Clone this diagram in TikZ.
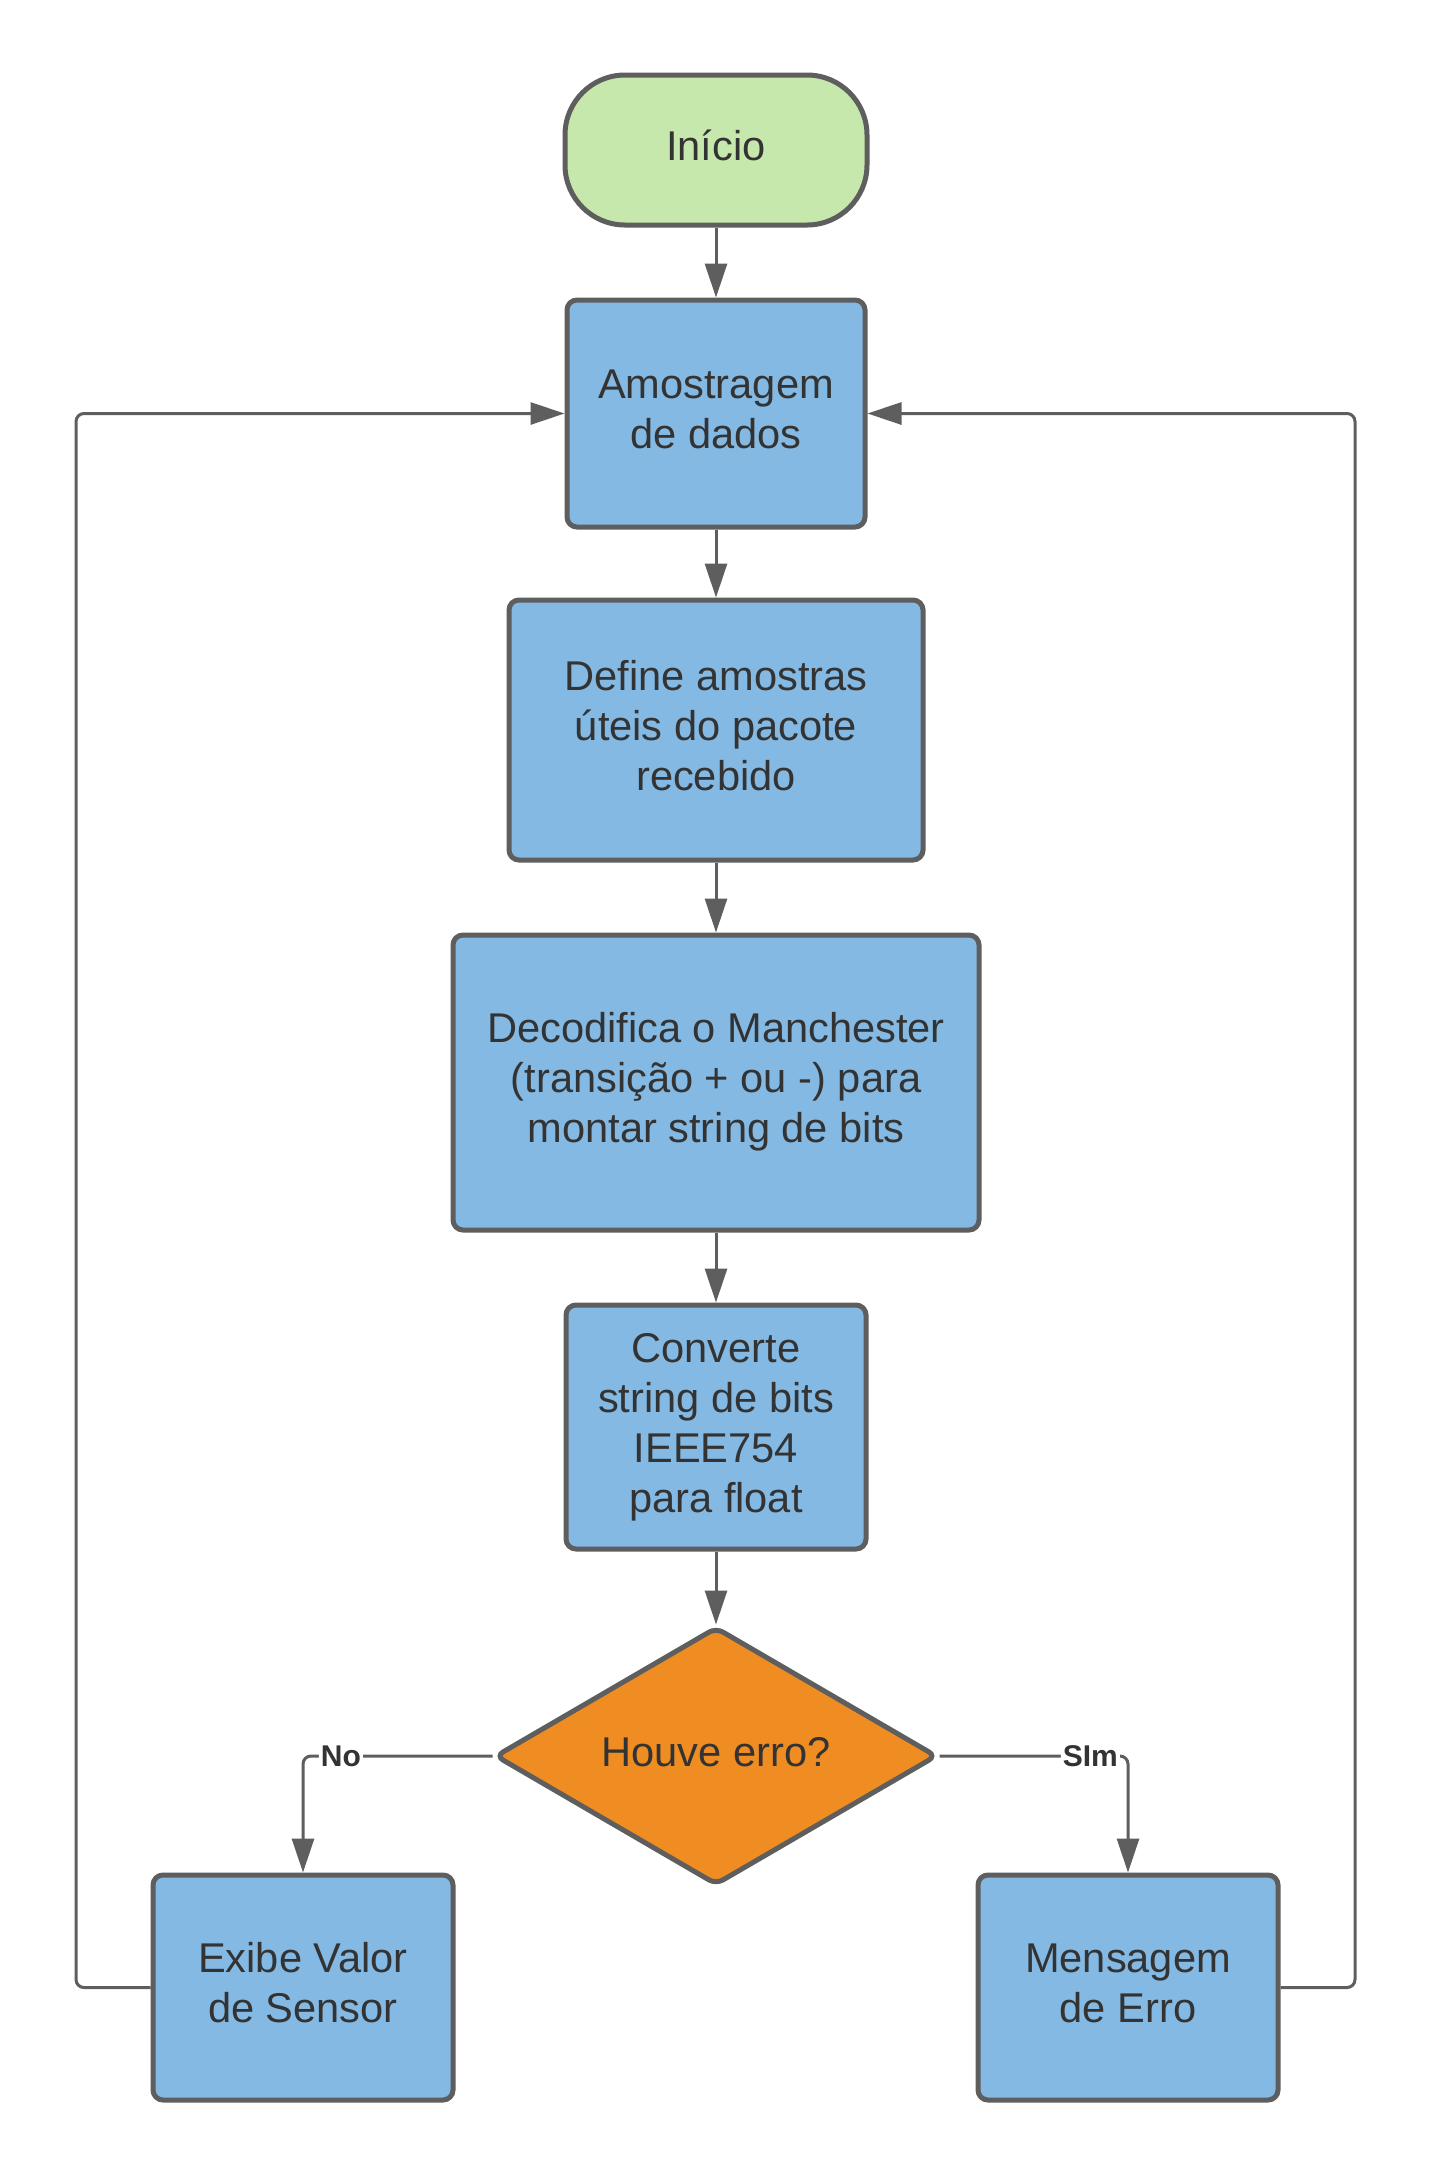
\documentclass[tikz,border=0pt]{standalone}
\usepackage{fontspec}
\setmainfont{Liberation Sans}
\usetikzlibrary{shapes.geometric,arrows.meta}
\definecolor{edgegray}{HTML}{5E5E5E}
\definecolor{boxblue}{HTML}{84B9E3}
\definecolor{termgreen}{HTML}{C7E8AC}
\definecolor{decorange}{HTML}{EF8C22}
\definecolor{txtgray}{HTML}{333333}
\newcommand{\boxtxt}[1]{\raisebox{3pt}{\begin{tabular}{@{}c@{}}#1\end{tabular}}}
\tikzset{
  base/.style={draw=edgegray, line width=2.5pt, text=txtgray,
    font=\fontsize{20.8}{25}\selectfont, inner sep=0pt},
  procbox/.style={base, rectangle, rounded corners=5pt, fill=boxblue},
  termbox/.style={base, rectangle, rounded corners=30pt, fill=termgreen},
  decbox/.style={base, diamond, rounded corners=4pt, fill=decorange},
  conn/.style={draw=edgegray, line width=1.5pt, rounded corners=4pt,
    -{Triangle[length=17pt,width=11pt]}},
  lbl/.style={fill=white, text=txtgray, inner sep=1pt,
    font=\fontsize{15}{18}\selectfont\bfseries}
}
\begin{document}
\begin{tikzpicture}[x=0.5pt, y={(0pt,-0.5pt)}]
\fill[white] (0,0) rectangle (1434,2175);
\useasboundingbox (0,0) rectangle (1434,2175);
\node[termbox, minimum width=151pt, minimum height=75pt] (inicio) at (716,150) {\boxtxt{Início}};
\node[procbox, minimum width=149pt, minimum height=113.5pt] (amos) at (716,413.5) {\boxtxt{Amostragem\\de dados}};
\node[procbox, minimum width=207pt, minimum height=130pt] (define) at (716,730) {\boxtxt{Define amostras\\úteis do pacote\\recebido}};
\node[procbox, minimum width=263pt, minimum height=147.5pt] (deco) at (716,1082.5) {\boxtxt{Decodifica o Manchester\\(transição + ou -) para\\montar string de bits}};
\node[procbox, minimum width=150pt, minimum height=122pt] (conv) at (716,1427) {\boxtxt{Converte\\string de bits\\IEEE754\\para float}};
\node[decbox, minimum width=221pt, minimum height=129pt] (dia) at (716,1756) {\boxtxt{\makebox[60pt][c]{Houve erro?}}};
\node[procbox, minimum width=150pt, minimum height=112.5pt] (exibe) at (303,1987.5) {\boxtxt{Exibe Valor\\de Sensor}};
\node[procbox, minimum width=150pt, minimum height=112.5pt] (msg) at (1128,1987.5) {\boxtxt{Mensagem\\de Erro}};
\coordinate (lx) at (76,0);
\coordinate (rx) at (1355,0);
\draw[conn] (inicio.south) -- (amos.north);
\draw[conn] (amos.south) -- (define.north);
\draw[conn] (define.south) -- (deco.north);
\draw[conn] (deco.south) -- (conv.north);
\draw[conn] (conv.south) -- (dia.north);
\draw[conn] (dia.west) -| node[lbl, pos=0.4] (nolbl) {No} (exibe.north);
\draw[conn] (dia.east) -| node[lbl, pos=0.4] (simlbl) {SIm} (msg.north);
\draw[conn] (exibe.west) -- (exibe.west -| lx) -- (amos.west -| lx) -- (amos.west);
\draw[conn] (msg.east) -- (msg.east -| rx) -- (amos.east -| rx) -- (amos.east);
\end{tikzpicture}
\end{document}
